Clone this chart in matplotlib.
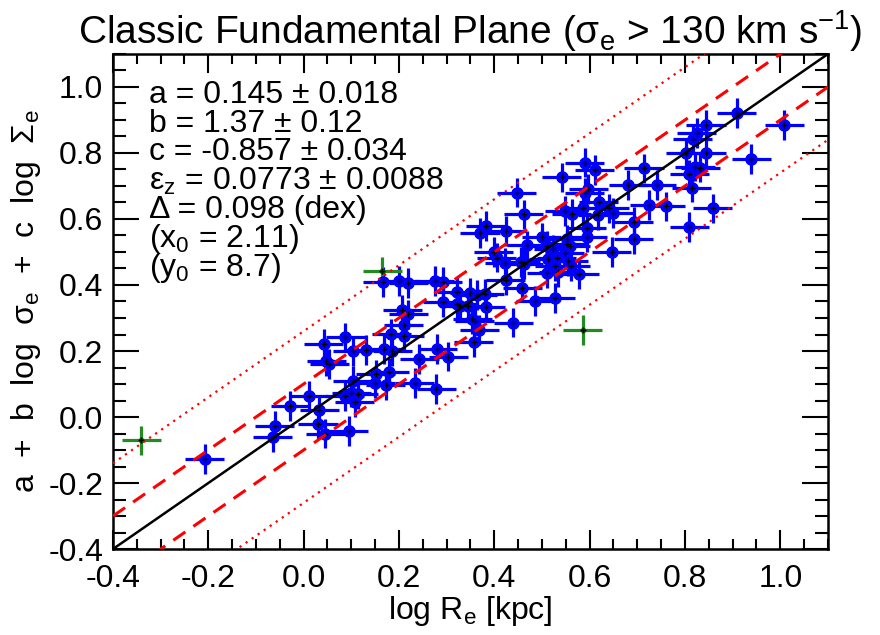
import numpy as np
import matplotlib
matplotlib.use('Agg')
import matplotlib.pyplot as plt
from matplotlib.ticker import MultipleLocator

plt.rcParams['font.family'] = ['Liberation Sans', 'DejaVu Sans']
plt.rcParams['mathtext.fontset'] = 'custom'
plt.rcParams['mathtext.rm'] = 'Liberation Sans'

# galaxies used in the fit (log Re, a + b log sigma + c log Sigma)
x_fit = [-0.208, -0.061, -0.065, -0.028, 0.011, 0.033, 0.030, 0.045, 0.095, 0.042,
         0.047, 0.054, 0.087, 0.103, 0.130, 0.168, 0.184, 0.186, 0.180, 0.172,
         0.151, 0.150, 0.103, 0.100, 0.114, 0.086, 0.107, 0.166, 0.201, 0.219,
         0.207, 0.219, 0.210, 0.211, 0.243, 0.233, 0.275, 0.292, 0.321, 0.349,
         0.364, 0.380, 0.292, 0.322, 0.328, 0.345, 0.382, 0.354, 0.359, 0.368,
         0.357, 0.440, 0.280, 0.303, 0.278, 0.382, 0.370, 0.425, 0.399, 0.405,
         0.422, 0.455, 0.462, 0.468, 0.499, 0.510, 0.524, 0.531, 0.513, 0.527,
         0.552, 0.548, 0.559, 0.552, 0.555, 0.560, 0.510, 0.534, 0.578, 0.424,
         0.459, 0.486, 0.528, 0.447, 0.462, 0.541, 0.590, 0.611, 0.597, 0.590,
         0.548, 0.562, 0.585, 0.619, 0.641, 0.649, 0.617, 0.594, 0.595, 0.692,
         0.692, 0.646, 0.714, 0.681, 0.741, 0.725, 0.760, 0.858, 0.809, 0.909,
         1.008, 0.844, 0.825, 0.816, 0.802, 0.845, 0.939, 0.821, 0.832, 0.809,
         0.814]
y_fit = [-0.128, -0.027, -0.061, 0.033, 0.064, 0.021, -0.022, -0.050, -0.042, 0.222,
         0.170, 0.160, 0.241, 0.200, 0.203, 0.205, 0.251, 0.200, 0.135, 0.096,
         0.129, 0.104, 0.109, 0.074, 0.069, 0.064, 0.044, 0.409, 0.412, 0.405,
         0.325, 0.311, 0.278, 0.245, 0.175, 0.104, 0.412, 0.410, 0.379, 0.376,
         0.369, 0.373, 0.348, 0.342, 0.337, 0.335, 0.332, 0.298, 0.292, 0.263,
         0.228, 0.286, 0.207, 0.183, 0.084, 0.579, 0.557, 0.564, 0.500, 0.483,
         0.468, 0.470, 0.463, 0.520, 0.544, 0.518, 0.508, 0.483, 0.478, 0.458,
         0.523, 0.498, 0.519, 0.538, 0.473, 0.458, 0.435, 0.438, 0.432, 0.416,
         0.392, 0.352, 0.360, 0.680, 0.614, 0.726, 0.771, 0.748, 0.690, 0.680,
         0.625, 0.616, 0.634, 0.650, 0.632, 0.619, 0.613, 0.574, 0.545, 0.590,
         0.538, 0.499, 0.753, 0.702, 0.702, 0.642, 0.638, 0.632, 0.575, 0.922,
         0.885, 0.884, 0.860, 0.842, 0.799, 0.801, 0.781, 0.759, 0.756, 0.735,
         0.695]

# clipped outliers
x_out = [-0.341, 0.165, 0.585]
y_out = [-0.071, 0.441, 0.263]

x_err = 0.041
y_err = 0.045

rms_dex = 0.1      # dashed lines
outer_dex = 0.26   # dotted lines

fig = plt.figure(figsize=(8.8, 6.35), dpi=100)
ax = fig.add_axes([0.1284, 0.1354, 0.8125, 0.7796])

ax.errorbar(x_fit, y_fit, xerr=x_err, yerr=y_err, fmt='o', color='blue',
            ms=8, elinewidth=2.3, capsize=0, zorder=2)
ax.plot(x_fit, y_fit, '+', color='black', ms=5, mew=1.0, zorder=3)

ax.errorbar(x_out, y_out, xerr=x_err, yerr=y_err, fmt='none', ecolor='forestgreen',
            elinewidth=2.3, capsize=0, zorder=2)
ax.plot(x_out, y_out, 'o', color='darkgreen', ms=3, zorder=3)
ax.plot(x_out, y_out, '+', color='black', ms=5, mew=1.0, zorder=3)

xl = np.array([-0.4, 1.1])
ax.plot(xl, xl, color='black', lw=1.8, zorder=4)
for s in (1, -1):
    ax.plot(xl, xl + s * rms_dex, color='red', lw=2.2, ls=(0, (4.8, 3.2)), zorder=4)
    ax.plot(xl, xl + s * outer_dex, color='red', lw=1.6, ls=(0, (1, 2.3)), zorder=4)

ax.set_xlim(-0.4, 1.1)
ax.set_ylim(-0.4, 1.1)
ax.xaxis.set_major_locator(MultipleLocator(0.2))
ax.xaxis.set_minor_locator(MultipleLocator(0.05))
ax.yaxis.set_major_locator(MultipleLocator(0.2))
ax.yaxis.set_minor_locator(MultipleLocator(0.05))
ax.xaxis.set_major_formatter(plt.FuncFormatter(lambda v, p: f'{v:.1f}'.replace('-0.0', '0.0')))
ax.yaxis.set_major_formatter(plt.FuncFormatter(lambda v, p: f'{v:.1f}'.replace('-0.0', '0.0')))
ax.tick_params(which='both', direction='in', top=True, right=True, width=1.5, labelsize=23)
ax.tick_params(axis='x', which='major', length=14, pad=11)
ax.tick_params(axis='x', which='minor', length=7)
ax.tick_params(axis='y', which='major', length=19, pad=7)
ax.tick_params(axis='y', which='minor', length=9.5)
for sp in ax.spines.values():
    sp.set_linewidth(1.8)

ax.set_title(r'Classic Fundamental Plane (σ$\mathregular{_e}$ > 130 km s$\mathregular{^{-1}}$)',
             fontsize=28, pad=5)
ax.set_xlabel(r'log R$\mathregular{_e}$ [kpc]', fontsize=23, labelpad=0)
ax.set_ylabel(r'a  +  b  log  σ$\mathregular{_e}$  +  c  log  Σ$\mathregular{_e}$', fontsize=23, labelpad=4)

fit_lines = ['a = 0.145 ± 0.018',
             'b = 1.37 ± 0.12',
             'c = -0.857 ± 0.034',
             r'ε$\mathregular{_z}$ = 0.0773 ± 0.0088',
             'Δ = 0.098 (dex)',
             r'(x$\mathregular{_0}$ = 2.11)',
             r'(y$\mathregular{_0}$ = 8.7)']
for i, t in enumerate(fit_lines):
    ax.text(0.05, 0.918 - i * 0.0585, t, transform=ax.transAxes, fontsize=23,
            va='center', ha='left')

fig.savefig('out.png', dpi=100)
